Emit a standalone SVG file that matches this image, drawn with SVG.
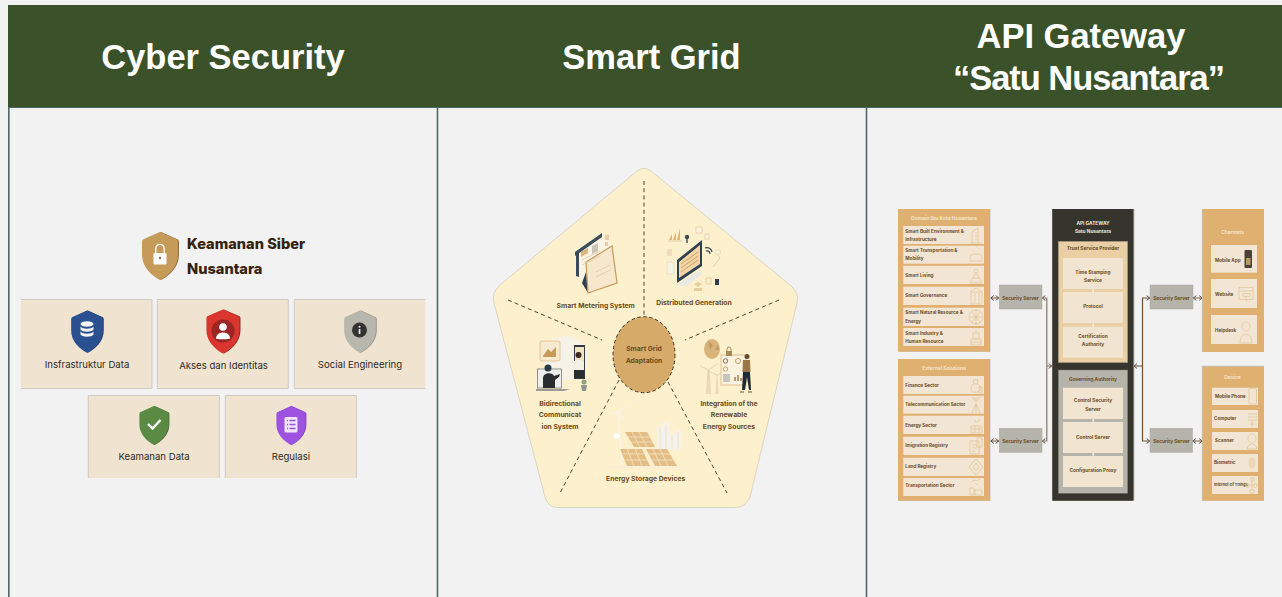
<svg xmlns="http://www.w3.org/2000/svg" width="1282" height="597" viewBox="0 0 1282 597">
<style>
text{font-family:"Inter","Liberation Sans",sans-serif}
.h{font-family:"Liberation Sans",Arial,sans-serif;font-weight:700;font-size:34.5px;fill:#fff;text-anchor:middle}
.cf{fill:#f0e3d0}
.ce{fill:none;stroke:#c9c6c0;stroke-width:.9}
.cl{font-size:9.6px;fill:#2e2a24;text-anchor:middle;dominant-baseline:central}
.t1{font-size:14.6px;font-weight:800;fill:#35220f;dominant-baseline:central}
.pt{font-size:6.8px;font-weight:700;fill:#6b4a20;text-anchor:middle;dominant-baseline:central}
.dash{fill:none;stroke:#54432f;stroke-width:1;stroke-dasharray:4 3.2}
.panel{fill:#dfb06f}
.item{fill:#f2e5d3}
.a{font-size:4.6px;font-weight:700;fill:#6a4c28;dominant-baseline:central}
.ac{font-size:4.8px;font-weight:700;fill:#6a4c28;text-anchor:middle;dominant-baseline:central}
.pw{font-size:5px;font-weight:600;fill:#f5e8d5;text-anchor:middle;dominant-baseline:central}
.ss{fill:#b5b4aa;stroke:#a9a89e;stroke-width:.5}
.ic{fill:none;stroke:#e2c391;stroke-width:.7}
.cn{fill:none;stroke-width:1.200}
.c1{stroke:#8a7763}
.c2{stroke:#70502f}
.sq{fill:#f1e4d1}
</style>
<defs>
<path id="sh" d="M0,-24L17,-16.500Q18,-16 18,-14V-1C18,11 8,20 0,24C-8,20-18,11-18,-1V-14Q-18,-16-17,-16.500Z"/>
<marker id="ar" viewBox="0 0 6 8" refX="5.400" refY="4" markerWidth="4.500" markerHeight="6" orient="auto-start-reverse" markerUnits="userSpaceOnUse"><path d="M1,.8L5,4L1,7.200" fill="none" stroke="#5c4a35" stroke-width="1.300"/></marker>
</defs>
<rect width="1282" height="597" fill="#f2f2f2"/>
<g id="header">
<rect x="8" y="5" width="1274" height="102.500" fill="#3a5129"/>
<text class="h" x="223" y="69">Cyber Security</text>
<text class="h" x="651.500" y="69">Smart Grid</text>
<text class="h" x="1081" y="48">API Gateway</text>
<text class="h" x="1089" y="90" textLength="272" lengthAdjust="spacing">“Satu Nusantara”</text>
</g>
<g id="columns" fill="none" stroke="#4d6565" stroke-width="1.600">
<path d="M8.800,107.500V597M437.500,107.500V597M866.500,107.500V597"/>
<path d="M8,107.500H1282" stroke-width="1"/>
</g>

<g id="cyber-title">
<use href="#sh" x="161" y="256" fill="#8e6f3f"/>
<use href="#sh" x="160" y="256" fill="#c69a58"/>
<rect x="153.500" y="253" width="13" height="11.500" rx="1" fill="#fff"/>
<path d="M155.800,253V248.500a4.200,4.200 0 0 1 8.400,0V253" fill="none" stroke="#fff" stroke-width="1.300"/>
<circle cx="160" cy="258" r="1.200" fill="#8e6f3f"/>
<text class="t1" x="187" y="244">Keamanan Siber</text>
<text class="t1" x="187" y="269">Nusantara</text>
</g>
<g id="card-infrastruktur">
<rect class="cf" x="21" y="299.500" width="131" height="89"/>
<path class="ce" d="M21,299.500H152V388.500H21"/>
<g transform="translate(87,331.700) scale(.88)"><use href="#sh" x="1" fill="#1c3a68"/><use href="#sh" fill="#2a5090"/></g>
<g fill="#f4f4f4"><ellipse cx="87" cy="324" rx="6.500" ry="2.800"/><path d="M80.500,326.500c2,3 11,3 13,0v3c-2,3-11,3-13,0zM80.500,331.500c2,3 11,3 13,0v3c-2,3-11,3-13,0z"/></g>
<text class="cl" x="87" y="364">Insfrastruktur Data</text>
</g>
<g id="card-akses">
<rect class="cf" x="157.300" y="299.500" width="131" height="89"/>
<path class="ce" d="M157.300,299.500H288.300V388.500H157.300Z"/>
<g transform="translate(223,331.500) scale(.92)"><use href="#sh" x="1" fill="#8e2622"/><use href="#sh" fill="#d8362e"/></g>
<circle cx="223" cy="331" r="11.500" fill="#9c2623"/>
<circle cx="223" cy="327" r="3.800" fill="#fff"/>
<path d="M216,338.500c0-8 14-8 14,0c0,1-14,1-14,0z" fill="#fff"/>
<text class="cl" x="223.500" y="365">Akses dan Identitas</text>
</g>
<g id="card-social">
<rect class="cf" x="294.300" y="299.500" width="131" height="89"/>
<path class="ce" d="M425.300,299.500H294.300V388.500H425.300"/>
<g transform="translate(360,331.700) scale(.88)"><use href="#sh" x="1" fill="#8f8f86"/><use href="#sh" fill="#b7b7ae"/></g>
<circle cx="359.500" cy="330" r="7.500" fill="#333"/>
<rect x="358.700" y="329" width="1.700" height="5" fill="#eee"/><circle cx="359.500" cy="326.800" r="1" fill="#eee"/>
<text class="cl" x="360" y="364.500">Social Engineering</text>
</g>
<g id="card-keamanan">
<rect class="cf" x="88.300" y="395.500" width="131" height="82.500"/>
<path class="ce" d="M88.300,478V395.500H219.300V478"/>
<g transform="translate(154,425.500) scale(.81)"><use href="#sh" x="1" fill="#456d36"/><use href="#sh" fill="#5b8a45"/></g>
<path d="M148,424l4.500,4.500l8-8.500" fill="none" stroke="#fff" stroke-width="2.400"/>
<text class="cl" x="154" y="456">Keamanan Data</text>
</g>
<g id="card-regulasi">
<rect class="cf" x="225.300" y="395.500" width="131" height="82.500"/>
<path class="ce" d="M225.300,478V395.500H356.300V478"/>
<g transform="translate(291,425.500) scale(.81)"><use href="#sh" x="1" fill="#7a3fc0"/><use href="#sh" fill="#9d52e0"/></g>
<rect x="284.500" y="417" width="13" height="15.500" rx="1.500" fill="#efe4fb"/>
<path d="M287,420.500h1M289.500,420.500h6M287,424.500h1M289.500,424.500h6M287,428.500h1M289.500,428.500h6" stroke="#9d52e0" stroke-width="1.300"/>
<text class="cl" x="291" y="456">Regulasi</text>
</g>

<g id="smart-grid">
<path d="M637,171Q644,165.500 651,171L790,285Q800,293 797,303L750,497Q746,507.500 735,507.500H558Q548,507.500 545,497L494,303Q491,293 500,285Z" fill="#fdf0cc" stroke="#c9c3ae" stroke-width=".6"/>
</g>
<g id="grid-connectors">
<path class="dash" d="M644,181V316"/>
<path class="dash" d="M508,300L602,340"/>
<path class="dash" d="M779,300L685,340"/>
<path class="dash" d="M619,380L560,493"/>
<path class="dash" d="M668,382L727,493"/>
</g>
<g id="hub">
<ellipse cx="644" cy="354.700" rx="31" ry="38" fill="#d6ab69" stroke="#3c2f1e" stroke-width="1" stroke-dasharray="3.500 2.500"/>
<text class="pt" x="644" y="348.500">Smart Grid</text>
<text class="pt" x="644" y="360">Adaptation</text>
</g>
<g id="seg-metering">
<path d="M577,253L603,237L610,243L609,268L585,282L577,278Z" fill="#f9f3e6"/>
<path d="M582,283L586,272L588,293Z" fill="#2f4150"/>
<path d="M588,293L586,262L612,246L617,283Z" fill="#f6e7cd" stroke="#c8995a" stroke-width="1.200"/>
<path d="M575,252L602,233L602,237L575,256Z" fill="#3a4c5a"/>
<path d="M576,254L579,252V277L576,276Z" fill="#3a4c5a"/>
<rect x="605" y="235" width="4" height="5" fill="#e6cfa8"/>
<rect x="605" y="242" width="3" height="4" fill="#e6cfa8"/>
<path d="M581,252l7-4v5l-7,4z" fill="#dbb479"/>
<path d="M592,246l6-3v8l-6,3z" fill="#c9c4b6"/>
<path d="M582,260l18-9M582,265l18-9M596,272l14-7M596,277l14-7" stroke="#dcc7a5" stroke-width=".8"/>
<text class="pt" x="595.700" y="305.700">Smart Metering System</text>
</g>
<g id="seg-distributed">
<path d="M677,260L702,240V266L677,283Z" fill="#2f4150"/>
<path d="M679,262L700,245V264L679,278Z" fill="#f2d6a8"/>
<path d="M681,264l17-12M681,268l17-12M681,272l17-12" stroke="#cfa264" stroke-width="1"/>
<path d="M677,285L700,270L702,274L686,286Z" fill="#e8e8e4"/>
<path d="M669,240l3-6v6zM673,240l3-8v8zM677,240l3-12v12z" fill="#e0b574"/>
<path d="M668,241L682,241" stroke="#e0c59b" stroke-width=".8"/>
<circle cx="687" cy="237" r="2.200" fill="#3a4c5a"/><rect x="686.300" y="238" width="1.400" height="5" fill="#3a4c5a"/>
<rect x="696" y="227" width="6" height="6" fill="#fbf4e2" stroke="#e0c59b" stroke-width=".7"/>
<rect x="705" y="234" width="4" height="5" fill="#fbf4e2" stroke="#e0c59b" stroke-width=".7"/>
<path d="M705,248a5,5 0 0 1 7,4M706,251a3,3 0 0 1 4,3" fill="none" stroke="#2f4150" stroke-width="1.200"/>
<circle cx="718" cy="252" r="2.500" fill="#fbf4e2" stroke="#e0c59b" stroke-width=".6"/>
<path d="M718,255L720,258L713,267" fill="none" stroke="#b9ab92" stroke-width=".5"/>
<rect x="667" y="249" width="5" height="7" fill="#f0dcb8"/>
<rect x="667" y="262" width="7" height="12" fill="#f8f2e4" stroke="#d8d0bd" stroke-width=".5"/>
<rect x="715" y="279" width="4" height="6" fill="#2f4150"/>
<rect x="706" y="278" width="5" height="6" fill="none" stroke="#e0c59b" stroke-width=".8"/>
<path d="M694,284l4,-2l4,2l-4,3zM694,288h8v3h-8z" fill="#e9cc9d"/>
<text class="pt" x="694" y="302.700">Distributed Generation</text>
</g>
<g id="seg-bidirectional">
<circle cx="566" cy="358" r="22" fill="#f6f2e8"/>
<rect x="540" y="341" width="20" height="20" rx="2" fill="#f8e9cf" stroke="#dcbc8c" stroke-width=".8"/>
<path d="M543,356l5-7l3,3l5-5v10h-13z" fill="#c79a5a"/>
<rect x="537.500" y="369" width="24" height="19" fill="#eee" stroke="#7b7a74" stroke-width=".8"/>
<path d="M536,389h34l-6,2h-28z" fill="#9a9a96"/>
<circle cx="548" cy="368" r="3.500" fill="#2a3a45"/>
<path d="M543,388v-10c0-6 10-6 11,-2l6,-2l-1,3l-4,3v8z" fill="#2a2d30"/>
<rect x="574" y="345" width="11" height="34" fill="#2f3b44"/>
<rect x="575" y="347" width="9" height="29" fill="#f3e4c4"/>
<circle cx="578.500" cy="355" r="3" fill="#3a2a1e"/>
<path d="M573,362c2,-3 10,-3 11,0v8h-11z" fill="#f5f0e4"/>
<path d="M574,370h10v8h-10z" fill="#2a2d30"/>
<path d="M581,385h6l-1,6h-4z" fill="#8d9690"/><circle cx="584" cy="382" r="2.500" fill="#8fa07a"/>
<text class="pt" x="560" y="403">Bidirectional</text>
<text class="pt" x="560" y="414.500">Communicat</text>
<text class="pt" x="560" y="426">ion System</text>
</g>
<g id="seg-integration">
<ellipse cx="712" cy="349" rx="8" ry="10" fill="#d9b47a"/>
<path d="M708,341l5,4l-3,5zM715,350l3-5l1,5z" fill="#c29b62"/>
<path d="M706,394L707.500,370H709.500L711,394ZM715.500,394L716.500,375H717.500L718.500,394Z" fill="#ecd9b5"/>
<path d="M708.500,370L700,366M708.500,370L717,364M708.500,370L708,380M717,375L708,371M717,375L725,371" stroke="#e0cba6" stroke-width=".8"/>
<rect x="721" y="355" width="25" height="30" fill="#fbf3df" stroke="#dfbf8e" stroke-width="1"/>
<rect x="726" y="351" width="6" height="5" fill="#a98a5e"/><path d="M727,351v-2a2,2 0 0 1 4,0v2" fill="none" stroke="#a98a5e"/>
<circle cx="725.500" cy="361" r="2.200" fill="none" stroke="#88745a"/><circle cx="725.500" cy="369" r="2.200" fill="none" stroke="#c99e63"/>
<circle cx="738" cy="361" r="2.500" fill="none" stroke="#c99e63"/>
<path d="M723,375h7M723,377h7M723,379h7M723,381h7" stroke="#67707a" stroke-width=".7"/>
<path d="M734,381v-4h2v4zM737,381v-6h2v6zM740,381v-3h2v3z" fill="#b99b6e"/>
<circle cx="747" cy="356.500" r="2.500" fill="#6b4a30"/>
<path d="M743,360h7l.5,12h-8z" fill="#9a7646"/>
<path d="M743,372h7l1,18h-2l-2-13l-2,13h-3z" fill="#1e2a34"/>
<path d="M740,392h4M748,392h4" stroke="#6a4a2a" stroke-width="1.200"/>
<text class="pt" x="729" y="403">Integration of the</text>
<text class="pt" x="729" y="414.500">Renewable</text>
<text class="pt" x="729" y="426">Energy Sources</text>
</g>
<g id="seg-storage">
<path d="M618,412L622,466M618,412L611,414M618,412L625,407M618,412L624,420" stroke="#f8f5ec" stroke-width="1.200" fill="none"/>
<circle cx="616.500" cy="436" r="3" fill="#fff"/>
<path d="M657,450v-24h6v-4h6v12h7v-4h5v20z" fill="#f6f2e9"/>
<path d="M660,427v22M666,425v24M672,436v13M678,432v17" stroke="#e5dfcf" stroke-width=".8"/>
<path d="M625,432L647,432L655,447L634,447Z" fill="#e3bd85"/>
<path d="M620,449L642,449L650,466L627,466Z" fill="#e3bd85"/>
<path d="M646,449L667,449L677,466L655,466Z" fill="#e3bd85"/>
<path d="M628,437h21M631,442h21M623,454h23M625,460h23M649,454h21M652,460h21M632,432l8,15M639,432l8,15M627,449l7,17M635,449l7,17M653,449l8,17M660,449l8,17" stroke="#f6e8cd" stroke-width=".7" fill="none"/>
<path d="M610,467H684" stroke="#f7ecd6" stroke-width="1.500"/>
<text class="pt" x="645.700" y="478.700">Energy Storage Devices</text>
</g>

<g id="connectors">
<path class="cn c1" d="M1042,298H1046.800V366H1052" marker-start="url(#ar)" marker-end="url(#ar)"/>
<path class="cn c1" d="M1042,441H1046.800V366" marker-start="url(#ar)"/>
<path class="cn c2" d="M1133.700,366H1142.500V298H1150" marker-start="url(#ar)" marker-end="url(#ar)"/>
<path class="cn c2" d="M1142.500,366V441H1150" marker-end="url(#ar)"/>
<path class="cn c1" d="M990.500,298H999" marker-start="url(#ar)" marker-end="url(#ar)"/>
<path class="cn c1" d="M990.500,441H999" marker-start="url(#ar)" marker-end="url(#ar)"/>
<path class="cn c1" d="M1193,298H1202.500" marker-start="url(#ar)" marker-end="url(#ar)"/>
<path class="cn c1" d="M1192.500,441H1202.500" marker-start="url(#ar)" marker-end="url(#ar)"/>
</g>
<g id="panel-domain">
<rect x="899" y="209" width="91.500" height="143" fill="#c4c3bd"/>
<rect class="panel" x="898" y="209" width="92" height="142.500"/>
<text class="pw" x="944" y="217.500">Domain Ibu Kota Nusantara</text>
<rect class="item" x="903.300" y="226" width="80.700" height="18"/>
<rect class="item" x="903.300" y="245.700" width="80.700" height="18"/>
<rect class="item" x="903.300" y="265.700" width="80.700" height="18.300"/>
<rect class="item" x="903.300" y="286.700" width="80.700" height="18.300"/>
<rect class="item" x="903.300" y="307.700" width="80.700" height="18.300"/>
<rect class="item" x="903.300" y="328" width="80.700" height="18"/>
<text class="a" x="905.300" y="231.700">Smart Built Environment &amp;</text>
<text class="a" x="905.300" y="239.700">Infrastructure</text>
<text class="a" x="905.300" y="250">Smart Transportation &amp;</text>
<text class="a" x="905.300" y="258">Mobility</text>
<text class="a" x="905.300" y="275">Smart Living</text>
<text class="a" x="905.300" y="295">Smart Governance</text>
<text class="a" x="905.300" y="312.700">Smart Natural Resource &amp;</text>
<text class="a" x="905.300" y="321">Energy</text>
<text class="a" x="905.300" y="333.300">Smart Industry &amp;</text>
<text class="a" x="905.300" y="341.300">Human Resource</text>
<path class="ic" d="M972,243V232l6-4V243M975,233h2M975,236h2M975,239h2M970,243h12"/>
<path class="ic" d="M970,258c0-3 2-4 4-4h3c3,0 5,1 5,4v3h-12zM973,251h1M976,247h1M979,249h1"/>
<path class="ic" d="M976,269a2,2 0 1 1 0,4a2,2 0 1 1 0-4M970,283l6-10l6,10zM973,278h6"/>
<path class="ic" d="M970,292l6-4l6,4zM971,293v10M975,293v10M979,293v10M982,293v10M970,304h12"/>
<circle class="ic" cx="976" cy="317" r="7"/><path class="ic" d="M976,310v14M970,317h12M972,312l8,10M980,312l-8,10"/>
<path class="ic" d="M971,339h10v6h-10zM973,333h6v6h-6zM976,330v3M971,342h10"/>
</g>
<g id="panel-external">
<rect x="899" y="359" width="91.500" height="142" fill="#c4c3bd"/>
<rect class="panel" x="898" y="359" width="92" height="141.700"/>
<text class="pw" x="944" y="367.700">External Solutions</text>
<rect class="item" x="903.300" y="376" width="80.700" height="18"/>
<rect class="item" x="903.300" y="395.700" width="80.700" height="18"/>
<rect class="item" x="903.300" y="415.700" width="80.700" height="18.300"/>
<rect class="item" x="903.300" y="436.700" width="80.700" height="18.300"/>
<rect class="item" x="903.300" y="457.700" width="80.700" height="18.300"/>
<rect class="item" x="903.300" y="478" width="80.700" height="18"/>
<text class="a" x="905.300" y="385.700">Finance Sector</text>
<text class="a" x="905.300" y="404">Telecommunication Sector</text>
<text class="a" x="905.300" y="425">Energy Sector</text>
<text class="a" x="905.300" y="445">Imigration Registry</text>
<text class="a" x="905.300" y="466">Land Registry</text>
<text class="a" x="905.300" y="485">Transportation Sector</text>
<path class="ic" d="M973,384c-3,3-3,8 1,8h4c3,-1 4,-5 0,-8zM974,384l-1-4h5l-1,4M979,387h3v6h-3z"/>
<path class="ic" d="M976,399v14M972,413l4-9l4,9M973,399a4,4 0 0 0 6,0M972,397a6,6 0 0 0 8,0"/>
<path class="ic" d="M971,426h11v7h-11zM971,429h11M975,426v7M979,426v7M979,419l2,2M975,420a2,2 0 1 0 4,0"/>
<path class="ic" d="M970,441h9v13h-9zM977,438h5v9h-5zM972,445h5M972,448h5M972,451h3"/>
<path class="ic" d="M976,459l7,8l-7,8l-7-8zM976,463l3,4l-3,4l-3-4z"/>
<path class="ic" d="M970,488h4v7h-4zM975,490h7v5h-7zM972,481c3,-1 6,0 8,-2M975,483l3,2"/>
</g>
<g id="server-1"><rect class="ss" x="999.300" y="285" width="42.700" height="24"/><text class="ac" x="1020.500" y="298">Security Server</text></g>
<g id="server-2"><rect class="ss" x="999.300" y="428.300" width="42.700" height="24"/><text class="ac" x="1020.500" y="441">Security Server</text></g>
<g id="gateway">
<rect x="1052.300" y="209" width="82" height="291.700" fill="#9a9a94"/>
<rect x="1052.300" y="209" width="81" height="291.700" fill="#35352d"/>
<text class="ac" x="1093" y="222.700" style="fill:#efe6d6">API GATEWAY</text>
<text class="ac" x="1093" y="231" style="fill:#efe6d6">Satu Nusantara</text>
</g>
<g id="trust">
<rect x="1058.300" y="241.300" width="69.400" height="121.400" fill="#e9cfa3" stroke="#8f8b7c" stroke-width=".5"/>
<text class="ac" x="1093" y="248" style="fill:#5f4a2c">Trust Service Provider</text>
<rect x="1092.500" y="285" width="1.400" height="45" fill="#f6ecd8"/>
<rect class="sq" x="1063" y="258" width="60" height="31"/>
<rect class="sq" x="1063" y="292" width="60" height="31"/>
<rect class="sq" x="1063" y="326.700" width="60" height="31"/>
<text class="ac" x="1093" y="271.700">Time Stamping</text><text class="ac" x="1093" y="279.700">Service</text>
<text class="ac" x="1093" y="306">Protocol</text>
<text class="ac" x="1093" y="335.500">Certification</text><text class="ac" x="1093" y="343.700">Authority</text>
</g>
<g id="governing">
<rect x="1058.300" y="370" width="69.400" height="123.300" fill="#b5b4aa" stroke="#77776c" stroke-width=".5"/>
<text class="ac" x="1093" y="379">Governing Authority</text>
<rect x="1092.500" y="415" width="1.400" height="45" fill="#f6ecd8"/>
<rect class="sq" x="1063" y="387.700" width="60" height="31.300"/>
<rect class="sq" x="1063" y="422" width="60" height="31"/>
<rect class="sq" x="1063" y="456" width="60" height="31"/>
<text class="ac" x="1093" y="400.300">Control Security</text><text class="ac" x="1093" y="408.700">Server</text>
<text class="ac" x="1093" y="437">Control Server</text>
<text class="ac" x="1093" y="470">Configuration Proxy</text>
</g>
<g id="server-3"><rect class="ss" x="1150" y="285" width="43" height="24"/><text class="ac" x="1171.500" y="298">Security Server</text></g>
<g id="server-4"><rect class="ss" x="1150" y="428.300" width="42.500" height="24"/><text class="ac" x="1171.500" y="441">Security Server</text></g>
<g id="panel-channels">
<rect x="1201.800" y="209" width="62" height="143" fill="#c4c3bd"/>
<rect class="panel" x="1202.700" y="209" width="61.300" height="143"/>
<text class="pw" x="1232.500" y="232">Channels</text>
<rect class="item" x="1211" y="245" width="46" height="27.700"/>
<rect class="item" x="1211" y="279" width="46" height="29"/>
<rect class="item" x="1211" y="315" width="46" height="29"/>
<text class="a" x="1215" y="260.500">Mobile App</text>
<text class="a" x="1215" y="294">Website</text>
<text class="a" x="1215" y="330">Helpdesk</text>
<rect x="1244.500" y="250" width="7.500" height="18" rx="1" fill="#4a4238"/>
<rect x="1246" y="258" width="4.500" height="7" fill="#b79a66"/>
<path class="ic" d="M1239,287.500h14v12h-14zM1239,291h14M1243,293.500h7v3h-7zM1245.500,296.500l1.500,5"/>
<path class="ic" d="M1246,322a4,4.500 0 1 1 0,9a4,4.500 0 1 1 0-9M1240,343c0-6 3-9 6-9s6,3 6,9z"/>
</g>
<g id="panel-device">
<rect x="1201.800" y="365.700" width="62" height="135" fill="#c4c3bd"/>
<rect class="panel" x="1202.700" y="366.700" width="61.300" height="134"/>
<text class="pw" x="1232.500" y="377">Device</text>
<rect class="item" x="1212" y="387.700" width="46" height="17.300"/>
<rect class="item" x="1212" y="410" width="46" height="18"/>
<rect class="item" x="1212" y="432" width="46" height="18"/>
<rect class="item" x="1212" y="454" width="46" height="18"/>
<rect class="item" x="1212" y="476" width="46" height="18"/>
<text class="a" x="1215" y="396">Mobile Phone</text>
<text class="a" x="1214" y="418">Computer</text>
<text class="a" x="1215" y="440">Scanner</text>
<text class="a" x="1214" y="462.700">Biometric</text>
<text class="a" x="1214" y="484.700" style="font-size:3.800px">Internet Of Things</text>
<rect class="ic" x="1249" y="388.500" width="7.500" height="15.500" rx="1"/>
<path class="ic" d="M1248,414h9M1248,417h9M1248,420h9M1250,424h5M1252,420v7"/>
<path class="ic" d="M1252,434a4,4.500 0 1 1 0,9a4,4.500 0 1 1 0-9M1247,449c0-3 3-5 5-5s5,2 5,5z"/>
<ellipse cx="1252" cy="463" rx="3.500" ry="5.500" fill="#ecd6b4"/>
<path class="ic" d="M1251,478h3v3h-3zM1246,484h3v3h-3zM1254,484h3v3h-3zM1250,490h4v3h-4zM1252,481v9M1249,485h5"/>
</g>
</svg>
